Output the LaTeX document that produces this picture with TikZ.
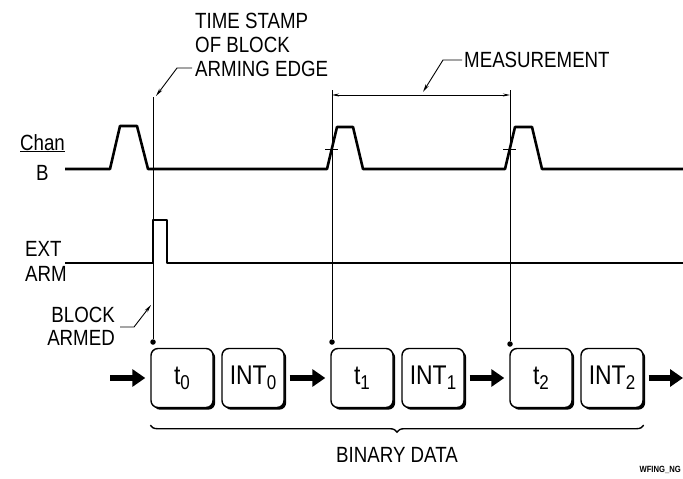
\documentclass[tikz,border=0pt]{standalone}
\usepackage{fontspec}
\setmainfont{Liberation Sans}[FakeStretch=0.85]
\usetikzlibrary{arrows.meta,decorations.pathreplacing,shadows}

\newcommand{\lowidx}[1]{\raisebox{-5pt}{\fontsize{20}{20}\selectfont #1}}

\tikzset{
  wave/.style={line width=2.6pt, line join=round},
  marker/.style={line width=0.8pt},
  leader/.style={line width=0.9pt, -{Stealth[length=8pt,width=3.5pt]}},
  dot/.style={circle, fill, inner sep=0pt, minimum size=5.5pt},
  datablock/.style={draw, fill=white, line width=1.4pt, rounded corners=7pt,
    minimum width=62pt, minimum height=59pt, inner sep=0pt,
    font=\fontsize{27}{27}\selectfont,
    drop shadow={shadow xshift=2.2pt, shadow yshift=-2.2pt, opacity=1, fill=black}},
  flow/.style={line width=5.5pt, -{Triangle[length=13pt,width=17pt]}},
  lbl/.style={font=\fontsize{22}{24}\selectfont, inner sep=0pt}
}

\begin{document}
\begin{tikzpicture}[x=1pt,y=-1pt]
\useasboundingbox (0,0) rectangle (683,479);

% labels
\node[lbl, align=left, anchor=north west] (stamp) at (195,13) {TIME STAMP\\OF BLOCK\\ARMING EDGE};
\node[lbl, anchor=west] (meas) at (464,60) {MEASUREMENT};
\node[lbl, anchor=base west] (chan) at (20,150) {\underline{Chan}};
\node[lbl, anchor=base west] (chanb) at (36,180) {B};
\node[lbl, align=left, anchor=north west, font=\fontsize{22}{25}\selectfont] (ext) at (25,241) {EXT\\ARM};
\node[lbl, align=right, anchor=north east, font=\fontsize{22}{23}\selectfont] (armed) at (115,307) {BLOCK\\ARMED};

% waveforms
\draw[wave] (65,169) -- (110,169) -- (120,126) -- (137,126) -- (148,169)
  -- (327,169) -- (337,127) -- (353,127) -- (363,169)
  -- (505,169) -- (515,127) -- (532,127) -- (542,169) -- (683,169);
\draw[wave] (65,263) -- (153,263) -- (153,220) -- (167,220) -- (167,263) -- (683,263);
\draw[marker] (325,149) -- (338,149);
\draw[marker] (503,149) -- (516,149);

% data blocks
\node[datablock] (t0) at (182,378) {t\lowidx{0}};
\node[datablock] (int0) at (253,378) {INT\lowidx{0}};
\node[datablock] (t1) at (362,378) {t\lowidx{1}};
\node[datablock] (int1) at (433,378) {INT\lowidx{1}};
\node[datablock] (t2) at (541,378) {t\lowidx{2}};
\node[datablock] (int2) at (612,378) {INT\lowidx{2}};

\coordinate (flowin) at (110,378);
\coordinate (flowout) at (683,378);
\draw[flow, shorten >=5pt] (flowin) -- (t0.west);
\draw[flow, shorten <=5pt, shorten >=5pt] (int0.east) -- (t1.west);
\draw[flow, shorten <=5pt, shorten >=5pt] (int1.east) -- (t2.west);
\draw[flow, shorten <=5pt] (int2.east) -- (flowout);

% time stamp markers
\coordinate (mk0) at (153,97);
\coordinate (mk1) at (332,90);
\coordinate (mk2) at (510,90);
\node[dot] (d0) at (153,342) {};
\node[dot] (d1) at (332,342) {};
\node[dot] (d2) at (510,344) {};
\draw[marker] (mk0) -- (d0);
\draw[marker] (mk1) -- (d1);
\draw[marker] (mk2) -- (d2);
\draw[marker, {Stealth[length=7pt,width=3pt]}-{Stealth[length=7pt,width=3pt]}]
  ([yshift=-5pt]mk1) -- ([yshift=-5pt]mk2);

% leaders
\draw[leader] ([xshift=-3pt]stamp.west |- 0,68) -- (177,68) -- (156,96);
\draw[leader] ([xshift=-2pt]meas.west) -- (443,60) -- (423,92);
\draw[leader] (120,327) -- (134,327) -- (151,305);

% brace
\draw[line width=1.4pt, decorate, decoration={brace, mirror, amplitude=7pt}]
  ([yshift=-17pt]t0.south west) -- ([yshift=-17pt]int2.south east);
\node[lbl] (binary) at (397,455) {BINARY DATA};
\node[font=\fontsize{9}{9}\selectfont\bfseries, inner sep=0pt, anchor=east] (code) at (681,470) {WFING\_NG};

\end{tikzpicture}
\end{document}
